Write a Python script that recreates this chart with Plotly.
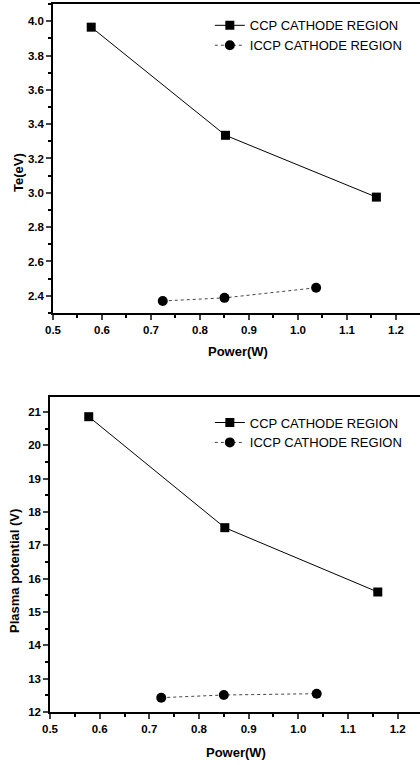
import plotly.graph_objects as go

# Data
ccp_power = [0.578, 0.852, 1.160]
iccp_power = [0.724, 0.850, 1.037]
te_ccp = [3.965, 3.335, 2.975]
te_iccp = [2.370, 2.388, 2.447]
vp_ccp = [20.86, 17.53, 15.60]
vp_iccp = [12.43, 12.51, 12.55]
name_ccp = "CCP CATHODE REGION"
name_iccp = "ICCP CATHODE REGION"
x_title = "Power(W)"
y_title_top = "Te(eV)"
y_title_bottom = "Plasma potential (V)"

FONT = "Liberation Sans, Arial, sans-serif"

fig = go.Figure()

def add_pair(x1, y1, x2, y2, xa, ya, leg):
    fig.add_trace(go.Scatter(x=x1, y=y1, mode="lines+markers", name=name_ccp,
                             xaxis=xa, yaxis=ya, legend=leg,
                             line=dict(color="black", width=1),
                             marker=dict(symbol="square", size=9, color="black")))
    fig.add_trace(go.Scatter(x=x2, y=y2, mode="lines+markers", name=name_iccp,
                             xaxis=xa, yaxis=ya, legend=leg,
                             line=dict(color="#444444", width=1, dash="dot"),
                             marker=dict(symbol="circle", size=10, color="black")))

add_pair(ccp_power, te_ccp, iccp_power, te_iccp, "x", "y", "legend")
add_pair(ccp_power, vp_ccp, iccp_power, vp_iccp, "x2", "y2", "legend2")

tickfont = dict(family=FONT, size=11.5, color="black", weight="bold")
titlefont = dict(family=FONT, size=13, color="black", weight="bold")

def xax(domain, anchor, rng):
    return dict(domain=domain, anchor=anchor, range=rng, dtick=0.1, tick0=0.5,
                tickformat=".1f", ticks="outside", ticklen=5, tickwidth=1.5,
                showline=True, linecolor="black", linewidth=1.5, mirror=True,
                showgrid=False, zeroline=False, tickfont=tickfont, automargin=False,
                minor=dict(ticks="outside", ticklen=3, dtick=0.05, tickcolor="black"))

def yax(domain, anchor, rng, dtick, fmt, mdt):
    return dict(domain=domain, anchor=anchor, range=rng, dtick=dtick, tick0=0,
                tickformat=fmt, ticks="outside", ticklen=5, tickwidth=1.5,
                showline=True, linecolor="black", linewidth=1.5, mirror=True,
                showgrid=False, zeroline=False, tickfont=tickfont, automargin=False,
                minor=dict(ticks="outside", ticklen=3, dtick=mdt, tickcolor="black"))

def title_ann(text, x, y, angle=0):
    return dict(text=text, x=x, y=y, xref="paper", yref="paper", showarrow=False,
                textangle=angle, font=titlefont, xanchor="center", yanchor="middle")

fig.update_layout(
    width=420, height=765,
    margin=dict(l=50, r=0, t=4, b=53, autoexpand=False),
    paper_bgcolor="white", plot_bgcolor="white",
    font=dict(family=FONT, color="black"),
    xaxis=xax([0.0081, 1.0], "y", [0.5, 1.249]),
    yaxis=yax([0.5636, 1.0], "x", [2.3, 4.1], 0.2, ".1f", 0.1),
    xaxis2=xax([0.0, 1.0], "y2", [0.5, 1.245]),
    yaxis2=yax([0.0, 0.4449], "x2", [12, 21.45], 1, "d", 0.5),
    legend=dict(x=0.432, y=0.991, xanchor="left", yanchor="top", bgcolor="rgba(0,0,0,0)",
                font=dict(family=FONT, size=13, color="black"), tracegroupgap=0),
    legend2=dict(x=0.432, y=0.430, xanchor="left", yanchor="top", bgcolor="rgba(0,0,0,0)",
                 font=dict(family=FONT, size=13, color="black"), tracegroupgap=0),
    annotations=[
        title_ann(x_title, 0.508, 0.5085),
        title_ann(x_title, 0.503, -0.0579),
        title_ann(y_title_top, -0.0865, 0.7627, -90),
        title_ann(y_title_bottom, -0.0946, 0.1992, -90),
    ],
)

fig.write_html("out.html", post_script="document.body.style.margin='0';",
               config={"displayModeBar": False})
